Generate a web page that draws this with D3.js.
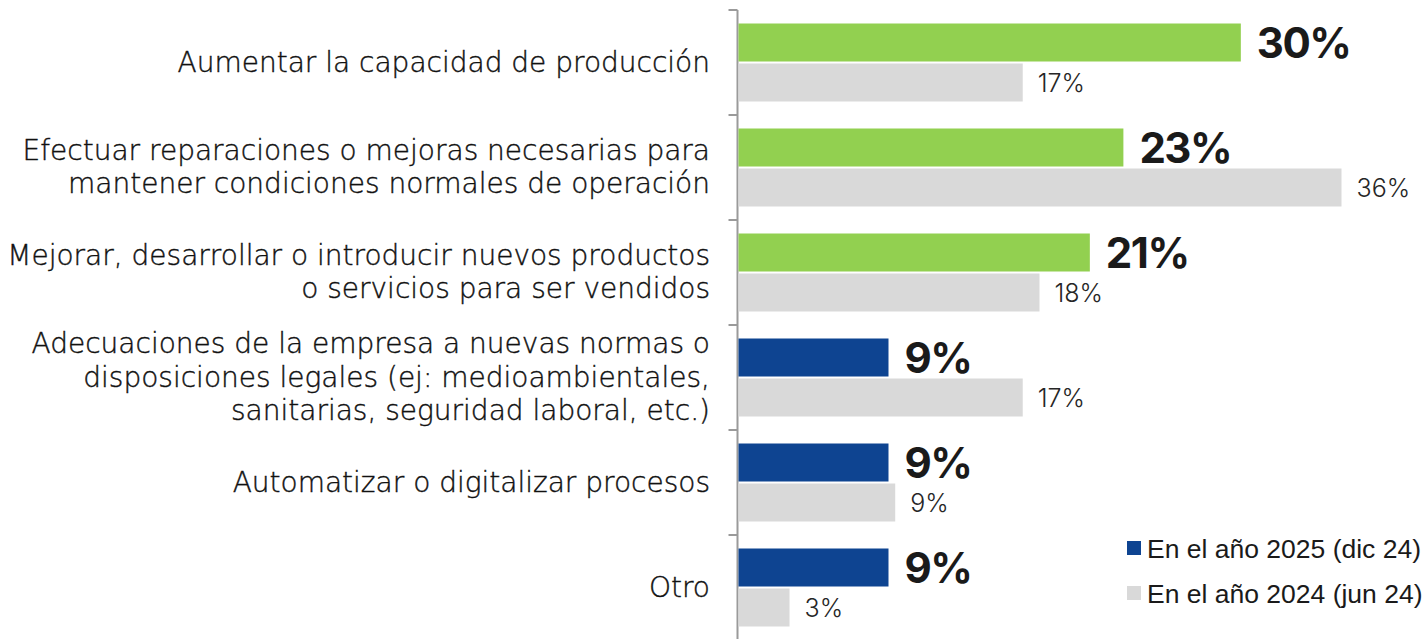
<!DOCTYPE html>
<html>
<head>
<meta charset="utf-8">
<script src="https://cdn.jsdelivr.net/npm/d3@7"></script>
<style>
  body { margin: 0; background: #fff; }
  svg text { font-family: "Inter", "Noto Sans", sans-serif; }
</style>
</head>
<body>
<div id="chart"></div>
<script>
var categories = [
    ["Aumentar la capacidad de producción"],
    ["Efectuar reparaciones o mejoras necesarias para", "mantener condiciones normales de operación"],
    ["Mejorar, desarrollar o introducir nuevos productos", "o servicios para ser vendidos"],
    ["Adecuaciones de la empresa a nuevas normas o", "disposiciones legales (ej: medioambientales,", "sanitarias, seguridad laboral, etc.)"],
    ["Automatizar o digitalizar procesos"],
    ["Otro"]
];
var values2025 = [30, 23, 21, 9, 9, 9];
var values2024 = [17, 36, 18, 17, 9.4, 3.1];
var highlight = [true, true, true, false, false, false];
var seriesNames = ["En el año 2025 (dic 24)", "En el año 2024 (jun 24)"];

var W = 1426, H = 639;
var axisX = 737.5;
var green = "#92D050", blue = "#0E4491", gray = "#D9D9D9";

var svg = d3.select("#chart").append("svg")
    .attr("width", W)
    .attr("height", H);

var idx = d3.range(categories.length);

var y = d3.scaleBand().domain(idx).range([10, 640]);
var x = d3.scaleLinear().domain([0, 36]).range([axisX, axisX + 604]);

var barH = 38, gap = 2;
var topPad = (y.bandwidth() - 2 * barH - gap) / 2;

// axis line + ticks
svg.append("line")
    .attr("x1", axisX).attr("x2", axisX)
    .attr("y1", 10).attr("y2", 640)
    .attr("stroke", "#9a9a9a").attr("stroke-width", 2);

svg.selectAll(".tick")
    .data(d3.range(categories.length + 1))
    .enter()
    .append("line")
        .attr("x1", axisX - 9).attr("x2", axisX)
        .attr("y1", function(d) { return 10 + d * y.step(); })
        .attr("y2", function(d) { return 10 + d * y.step(); })
        .attr("stroke", "#9a9a9a").attr("stroke-width", 2);

// 2025 bars
svg.selectAll(".bar25")
    .data(idx)
    .enter()
    .append("rect")
        .attr("x", axisX + 1)
        .attr("y", function(i) { return y(i) + topPad; })
        .attr("width", function(i) { return x(values2025[i]) - axisX - 1; })
        .attr("height", barH)
        .attr("fill", function(i) { return highlight[i] ? green : blue; });

// 2024 bars
svg.selectAll(".bar24")
    .data(idx)
    .enter()
    .append("rect")
        .attr("x", axisX + 1)
        .attr("y", function(i) { return y(i) + topPad + barH + gap; })
        .attr("width", function(i) { return x(values2024[i]) - axisX - 1; })
        .attr("height", barH)
        .attr("fill", gray);

// value labels
svg.selectAll(".lab25")
    .data(idx)
    .enter()
    .append("text")
        .attr("x", function(i) { return x(values2025[i]) + 16; })
        .attr("y", function(i) { return y(i) + topPad + barH / 2; })
        .attr("dy", "0.36em")
        .attr("font-size", 42)
        .attr("font-weight", 700)
        .attr("fill", "#1a1a1a")
        .style("letter-spacing", "-1.5px")
        .text(function(i) { return Math.round(values2025[i]) + "%"; });

svg.selectAll(".lab24")
    .data(idx)
    .enter()
    .append("text")
        .attr("x", function(i) { return x(values2024[i]) + 15; })
        .attr("y", function(i) { return y(i) + topPad + barH + gap + barH / 2; })
        .attr("dy", "0.36em")
        .attr("font-size", 25)
        .attr("font-weight", 300)
        .attr("fill", "#262626")
        .text(function(i) { return Math.round(values2024[i]) + "%"; });

// category labels
var lineH = 33.5;
idx.forEach(function(i) {
    var lines = categories[i];
    var cy = y(i) + y.bandwidth() / 2 - 1;
    var t = svg.append("text")
        .attr("text-anchor", "end")
        .attr("font-size", 28)
        .attr("font-weight", 200)
        .style("font-family", "'DejaVu Sans', sans-serif")
        .attr("fill", "#111")
        .attr("stroke", "#111")
        .attr("stroke-width", 0.4);
    lines.forEach(function(l, j) {
        t.append("tspan")
            .attr("x", 710)
            .attr("y", cy + (j - (lines.length - 1) / 2) * lineH)
            .attr("dy", "0.36em")
            .text(l);
    });
});

// legend
var legend = svg.selectAll(".legend")
    .data(seriesNames)
    .enter()
    .append("g")
        .attr("transform", function(d, i) { return "translate(1127," + (548 + i * 45) + ")"; });

legend.append("rect")
    .attr("x", 0).attr("y", -7)
    .attr("width", 14).attr("height", 14)
    .attr("fill", function(d, i) { return i == 0 ? blue : gray; });

legend.append("text")
    .attr("x", 20)
    .attr("y", 0)
    .attr("dy", "0.36em")
    .attr("font-size", 26.5)
    .style("font-family", "'Liberation Sans', Arial, sans-serif")
    .attr("fill", "#1a1a1a")
    .text(function(d) { return d; });
</script>
</body>
</html>
